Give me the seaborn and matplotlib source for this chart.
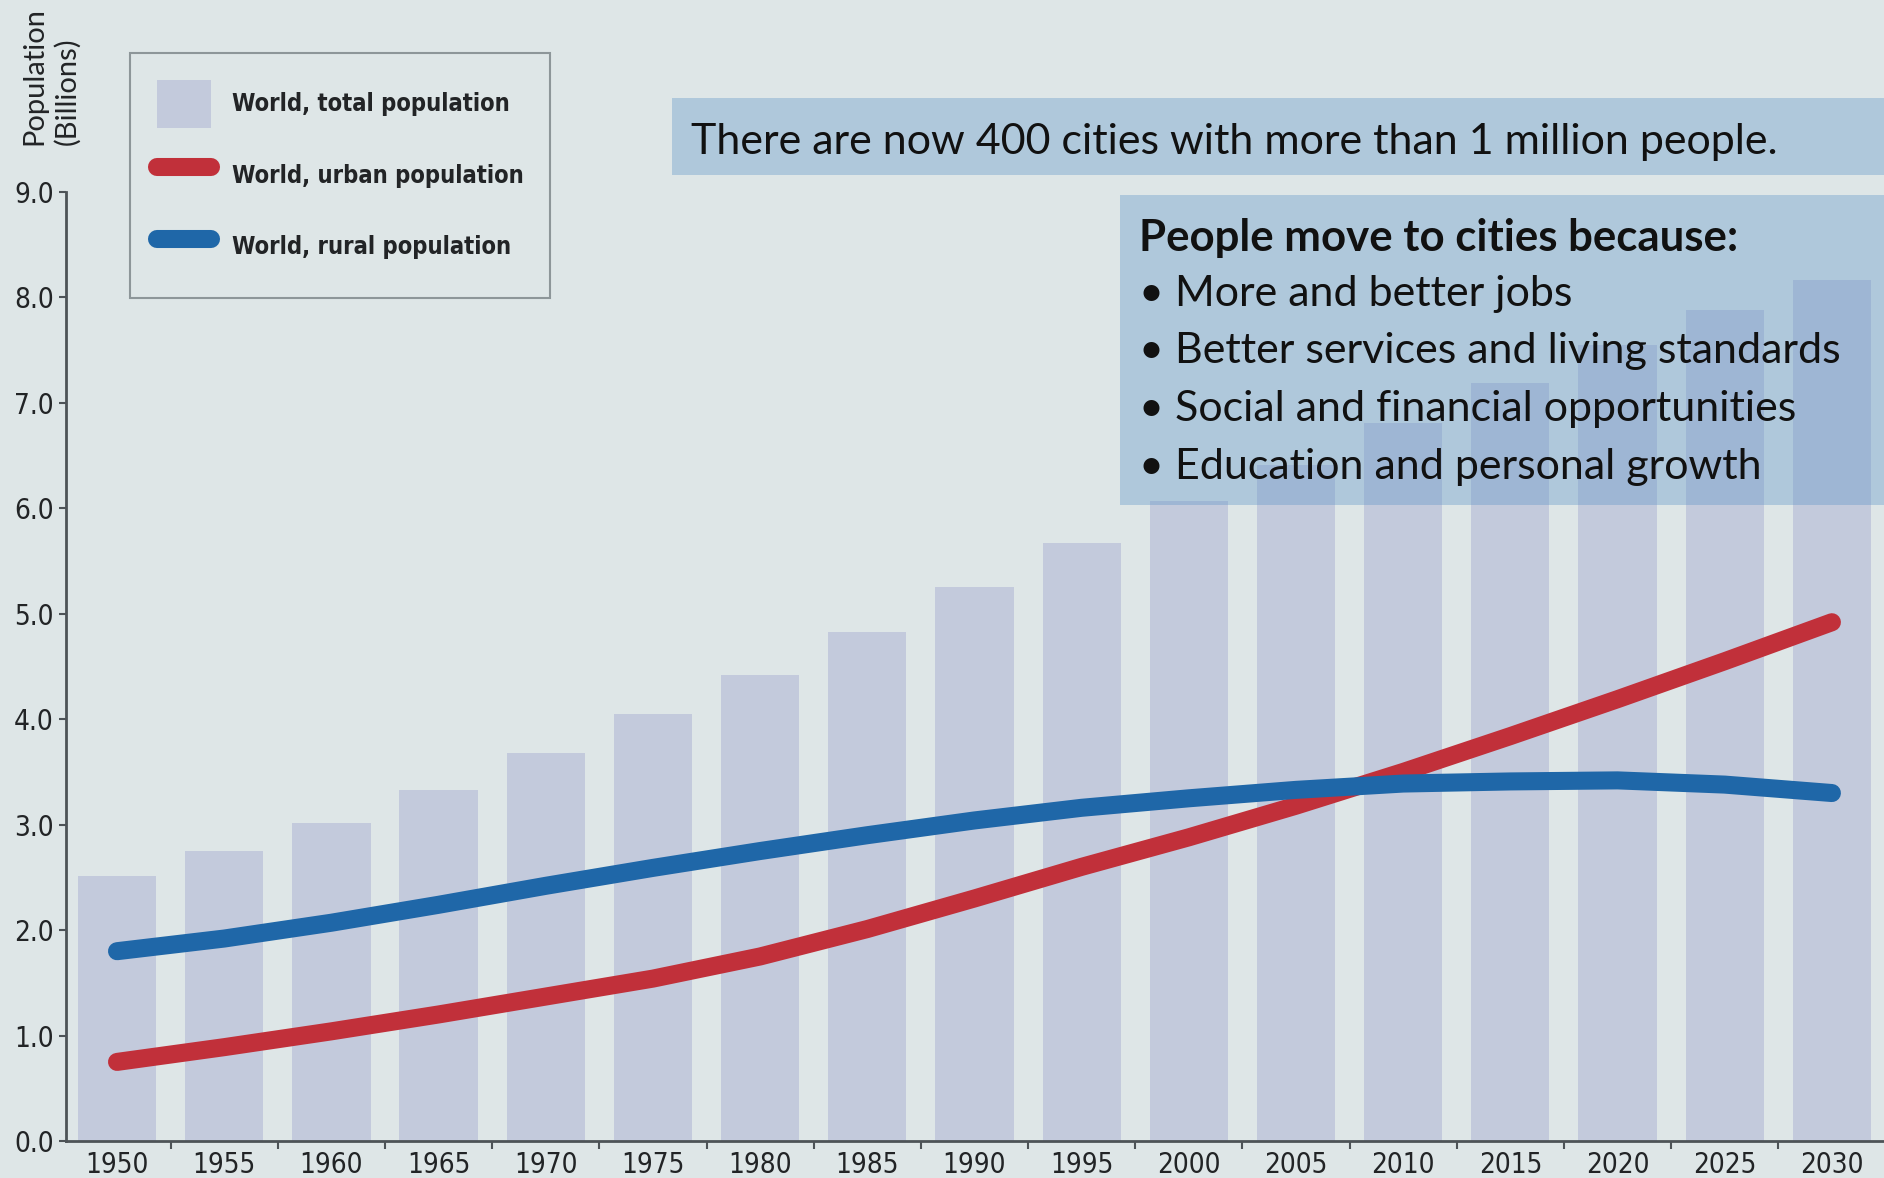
import matplotlib
matplotlib.use("Agg")
import matplotlib.pyplot as plt
from matplotlib import font_manager
from matplotlib.font_manager import FontProperties
from matplotlib.patches import Rectangle, Patch
from matplotlib.lines import Line2D
import pandas as pd
import seaborn as sns

# ---- data (billions of people) ----
years = [1950, 1955, 1960, 1965, 1970, 1975, 1980, 1985, 1990,
         1995, 2000, 2005, 2010, 2015, 2020, 2025, 2030]
total = [2.51, 2.75, 3.02, 3.33, 3.68, 4.05, 4.42, 4.83, 5.25,
         5.67, 6.07, 6.41, 6.81, 7.19, 7.55, 7.88, 8.17]
urban = [0.75, 0.89, 1.04, 1.20, 1.37, 1.54, 1.75, 2.01, 2.30,
         2.60, 2.88, 3.18, 3.50, 3.84, 4.19, 4.55, 4.92]
rural = [1.80, 1.92, 2.07, 2.24, 2.42, 2.59, 2.75, 2.90, 3.04,
         3.16, 3.25, 3.33, 3.39, 3.41, 3.42, 3.38, 3.30]

y_ticks = [0, 1, 2, 3, 4, 5, 6, 7, 8, 9]
legend_labels = ["World, total population",
                 "World, urban population",
                 "World, rural population"]
y_label = "Population\n(Billions)"
headline = "There are now 400 cities with more than 1 million people."
reasons_title = "People move to cities because:"
reasons = ["More and better jobs",
           "Better services and living standards",
           "Social and financial opportunities",
           "Education and personal growth"]

# ---- styling ----
W, H = 1884, 1178
BG = "#dee6e7"
BAR = "#c3cadc"
RED = "#c1303a"
BLUE = "#1f67a8"
INK = "#222426"
SPINE = "#4d5357"
BOX = "#5a92c6"
ROUND = ["Lato", "DejaVu Sans"]

sns.set_theme(style="white")

# pick a narrow sans for ticks and legend
_available = {f.name for f in font_manager.fontManager.ttflist}
if "Liberation Sans Narrow" in _available:
    NARROW = dict(family="Liberation Sans Narrow", stretch="normal")
else:
    NARROW = dict(family="DejaVu Sans", stretch="condensed")
plt.rcParams["font.family"] = [NARROW["family"], "DejaVu Sans"]

fig = plt.figure(figsize=(W / 100, H / 100), dpi=100, facecolor=BG)


def fx(px):
    return px / W


def fy(py):
    return 1 - py / H


ax = fig.add_axes([fx(66), fy(1141), 1 - fx(66), fy(192) - fy(1141)])
ax.set_facecolor(BG)

df = pd.DataFrame({"year": years, "total": total,
                   "urban": urban, "rural": rural})

sns.barplot(data=df, x="year", y="total", native_scale=True, width=0.73,
            color=BAR, saturation=1, errorbar=None, linewidth=0,
            edgecolor="none", ax=ax, zorder=1)
sns.lineplot(data=df, x="year", y="urban", color=RED, linewidth=13,
             solid_capstyle="round", solid_joinstyle="round", ax=ax, zorder=3)
sns.lineplot(data=df, x="year", y="rural", color=BLUE, linewidth=13,
             solid_capstyle="round", solid_joinstyle="round", ax=ax, zorder=4)

ax.set_xlim(1947.62, 2032.43)
ax.set_ylim(0, 9)
ax.set_xlabel("")
ax.set_ylabel("")

# tick marks sit between the bars, year labels under each bar
ax.set_xticks([y + 2.5 for y in years[:-1]])
ax.set_xticklabels([])
ax.set_xticks(years, minor=True)
ax.set_xticklabels([str(y) for y in years], minor=True)
ax.tick_params(axis="x", which="major", bottom=True, length=6, width=1.5,
               color=SPINE, direction="out")
ax.tick_params(axis="x", which="minor", bottom=True, length=0, pad=7,
               labelsize=20, labelcolor=INK)

ax.set_yticks(y_ticks)
ax.set_yticklabels([f"{v:.1f}" for v in y_ticks])
ax.tick_params(axis="y", left=True, length=5, width=1.5, color=SPINE,
               direction="out", pad=4, labelsize=20, labelcolor=INK)

for lab in ax.get_xticklabels(minor=True) + ax.get_yticklabels():
    lab.set_family(NARROW["family"])
    lab.set_stretch(NARROW["stretch"])

for side in ("top", "right"):
    ax.spines[side].set_visible(False)
for side in ("left", "bottom"):
    ax.spines[side].set_color(SPINE)
    ax.spines[side].set_linewidth(2)

# y axis title
fig.text(fx(51), fy(76), y_label, rotation=90, ha="center", va="center",
         multialignment="left", fontsize=21, family=ROUND, color=INK,
         linespacing=1.3)

# legend
handles = [Patch(facecolor=BAR, edgecolor="none"),
           Line2D([], [], color=RED, linewidth=13, solid_capstyle="round"),
           Line2D([], [], color=BLUE, linewidth=13, solid_capstyle="round")]
leg_font = FontProperties(family=NARROW["family"], stretch=NARROW["stretch"],
                          weight="bold", size=17)
leg = fig.legend(handles, legend_labels, loc="upper left",
                 bbox_to_anchor=(fx(130), fy(53)),
                 bbox_transform=fig.transFigure, frameon=True, fancybox=False,
                 facecolor=BG, edgecolor="#8d9699", framealpha=1,
                 prop=leg_font, borderpad=1.15, labelspacing=1.0,
                 handlelength=2.3, handleheight=2.75, handletextpad=0.85,
                 borderaxespad=0)
leg.get_frame().set_linewidth(1.5)
for t in leg.get_texts():
    t.set_color(INK)

# translucent call-out boxes
fig.add_artist(Rectangle((fx(672), fy(175)), 1 - fx(672), fy(98) - fy(175),
                         transform=fig.transFigure, facecolor=BOX, alpha=0.35,
                         edgecolor="none", zorder=5))
fig.add_artist(Rectangle((fx(1120), fy(505)), 1 - fx(1120), fy(195) - fy(505),
                         transform=fig.transFigure, facecolor=BOX, alpha=0.35,
                         edgecolor="none", zorder=5))

fig.text(fx(691), fy(142), headline, ha="left", va="center", fontsize=31,
         family=ROUND, color="#111111", zorder=6)
fig.text(fx(1139), fy(238), reasons_title, ha="left", va="center",
         fontsize=31.5, family=ROUND, weight="bold", color="#111111", zorder=6)
for i, r in enumerate(reasons):
    fig.text(fx(1139), fy(294 + i * 57.5), "\u2022 " + r, ha="left",
             va="center", fontsize=31, family=ROUND, color="#111111", zorder=6)

fig.savefig("out.png", dpi=100, facecolor=BG)
